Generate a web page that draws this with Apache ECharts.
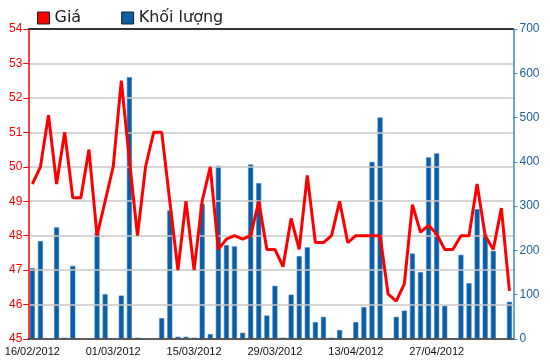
<!DOCTYPE html>
<html><head><meta charset="utf-8">
<script src="https://cdn.jsdelivr.net/npm/echarts@6/dist/echarts.min.js"></script>
<style>html,body{margin:0;padding:0;background:#fff}#c{width:550px;height:364px}</style>
</head><body><div id="c"></div>
<script>
var categories = ['16/02/2012','17/02/2012','20/02/2012','21/02/2012','22/02/2012','23/02/2012','24/02/2012','27/02/2012','28/02/2012','29/02/2012',
'01/03/2012','02/03/2012','05/03/2012','06/03/2012','07/03/2012','08/03/2012','09/03/2012','12/03/2012','13/03/2012','14/03/2012',
'15/03/2012','16/03/2012','19/03/2012','20/03/2012','21/03/2012','22/03/2012','23/03/2012','26/03/2012','27/03/2012','28/03/2012',
'29/03/2012','30/03/2012','03/04/2012','04/04/2012','05/04/2012','06/04/2012','09/04/2012','10/04/2012','11/04/2012','12/04/2012',
'13/04/2012','16/04/2012','17/04/2012','18/04/2012','19/04/2012','20/04/2012','23/04/2012','24/04/2012','25/04/2012','26/04/2012',
'27/04/2012','02/05/2012','03/05/2012','04/05/2012','07/05/2012','08/05/2012','09/05/2012','10/05/2012','11/05/2012','14/05/2012'];
var price = [49.5,50.0,51.5,49.5,51.0,49.1,49.1,50.5,48.0,49.0,
50.0,52.5,50.2,48.0,50.0,51.0,51.0,49.0,47.0,49.0,
47.0,49.0,50.0,47.6,47.9,48.0,47.9,48.0,49.0,47.6,
47.6,47.1,48.5,47.6,49.75,47.8,47.8,48.0,49.0,47.8,
48.0,48.0,48.0,48.0,46.3,46.1,46.6,48.9,48.1,48.3,
48.05,47.6,47.6,48.0,48.0,49.5,48.0,47.6,48.8,46.4];
var volume = [160,221,null,252,3,165,null,null,240,101,
null,98,591,3,null,null,47,290,5,5,
3,305,11,391,212,209,14,394,352,53,
120,3,100,187,207,38,50,3,20,null,
38,72,400,500,null,50,64,193,151,410,
419,75,null,190,126,293,236,199,null,84];
var priceTicks = {min:45, max:54, step:1};
var volumeTicks = {min:0, max:700, step:100};
var seriesNames = ['Giá','Khối lượng'];

var chart = echarts.init(document.getElementById('c'), null, {renderer:'canvas'});
chart.setOption({
  animation:false,
  textStyle:{fontFamily:'Liberation Sans, Arial, sans-serif'},
  legend:{
    data:[{name:seriesNames[0],icon:'rect'},{name:seriesNames[1],icon:'rect'}],
    left:32, top:5, itemWidth:12, itemHeight:12, itemGap:40,
    itemStyle:{borderColor:'#222',borderWidth:1},
    textStyle:{fontFamily:'DejaVu Sans',fontSize:16,color:'#222'}
  },
  grid:{left:28.3,right:36.5,top:29,bottom:25,show:false,containLabel:false},
  xAxis:{
    type:'category', data:categories, boundaryGap:true,
    axisLine:{show:true,onZero:false,lineStyle:{color:'#333',width:1.5}},
    axisTick:{alignWithLabel:true,interval:9,length:5,lineStyle:{color:'#333'}},
    axisLabel:{interval:9,color:'#111',fontSize:11,margin:7},
    splitLine:{show:false}, z:4
  },
  yAxis:[{
    type:'value', min:priceTicks.min, max:priceTicks.max, interval:priceTicks.step, position:'left',
    axisLine:{show:true,lineStyle:{color:'#ff0000',width:1.5}},
    axisTick:{show:true,length:5,lineStyle:{color:'#ff0000'}},
    axisLabel:{color:'#ff0000',fontSize:12,margin:6},
    splitLine:{show:true,showMaxLine:false,lineStyle:{color:'#c8c8c8',width:1.5}},
    z:3
  },{
    type:'value', min:volumeTicks.min, max:volumeTicks.max, interval:volumeTicks.step, position:'right',
    axisLine:{show:true,lineStyle:{color:'#3f88c0',width:1.5}},
    axisTick:{show:true,length:4,lineStyle:{color:'#3f88c0'}},
    axisLabel:{color:'#1d5f9c',fontSize:12,margin:6},
    splitLine:{show:false},
    z:3
  }],
  series:[{
    name:seriesNames[0], type:'line', data:price, yAxisIndex:0, z:5,
    symbol:'none', smooth:false,
    lineStyle:{color:'#ff0000',width:3}, itemStyle:{color:'#ff0000'}
  },{
    name:seriesNames[1], type:'bar', data:volume, yAxisIndex:1, z:2,
    barWidth:5,
    itemStyle:{color:'#0b5ea6',borderColor:'#2f7bc0',borderWidth:0.6}
  }]
});
// top frame line along the grid edge, positioned through the library's scales
var yTop = chart.convertToPixel({yAxisIndex:0}, priceTicks.max);
var x0 = chart.convertToPixel({xAxisIndex:0}, categories[0]);
var x1 = chart.convertToPixel({xAxisIndex:0}, categories[1]);
var xN = chart.convertToPixel({xAxisIndex:0}, categories[categories.length-1]);
var half = (x1 - x0) / 2;
if (isFinite(yTop) && isFinite(x0) && isFinite(xN)) {
  chart.setOption({
    graphic:[
      {type:'line', z:100, shape:{x1:x0-half, y1:Math.round(yTop), x2:xN+half, y2:Math.round(yTop)}, style:{stroke:'#333', lineWidth:2}}
    ]
  });
}
</script></body></html>
